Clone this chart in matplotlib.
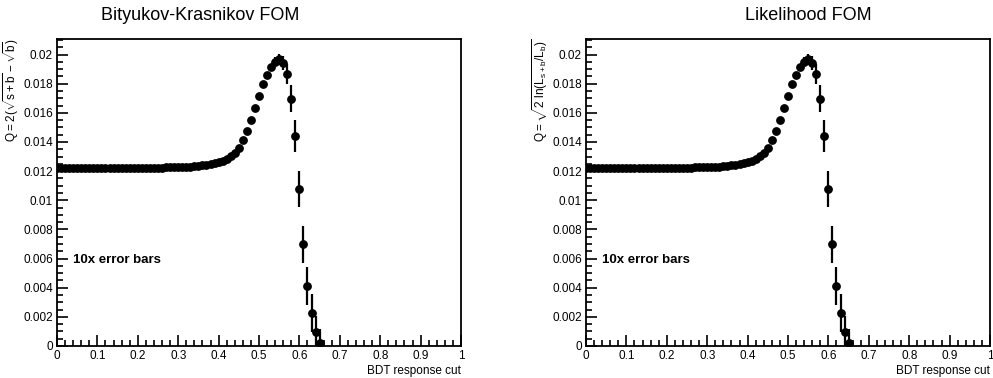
import numpy as np
from matplotlib import pyplot as plt
from matplotlib import ticker

# BDT cut scan, one point every 0.01
cut = [round(0.01 * i, 2) for i in range(66)]

# figure of merit vs. cut (both definitions give the same curve here)
bk_fom = [0.01223, 0.01223, 0.01223, 0.01223, 0.01223, 0.01223, 0.01223, 0.01223, 0.01223, 0.01223,
          0.01223, 0.01223, 0.01223, 0.01223, 0.01223, 0.01223, 0.01223, 0.01223, 0.01223, 0.01223,
          0.01223, 0.01223, 0.01223, 0.01223, 0.01224, 0.01224, 0.01224, 0.01225, 0.01225, 0.01226,
          0.01227, 0.01228, 0.01229, 0.01231, 0.01233, 0.01236, 0.01239, 0.01243, 0.01248, 0.01254,
          0.01262, 0.01272, 0.01285, 0.01303, 0.01327, 0.01362, 0.01412, 0.01478, 0.01551, 0.01631,
          0.01714, 0.01798, 0.01858, 0.01913, 0.01952, 0.01966, 0.01943, 0.01865, 0.01698, 0.01443,
          0.01077, 0.00697, 0.00411, 0.00225, 0.00095, 0.00020]
lik_fom = list(bk_fom)

# statistical errors, already scaled up by 10
err10 = [0.00005] * 45 + [0.00008, 0.00009, 0.0001, 0.00011, 0.00012, 0.00013, 0.00015, 0.00017,
                          0.0002, 0.00028, 0.0004, 0.0005, 0.0007, 0.0009, 0.0011, 0.00125,
                          0.00126, 0.0013, 0.0013, 0.0011, 0.001]

titles = ['Bityukov-Krasnikov FOM', 'Likelihood FOM']
ylabels = [r'$\mathregular{Q = 2(\sqrt{s+b} - \sqrt{b})}$',
           r'$\mathregular{Q = \sqrt{2\ ln(L_{s+b} / L_{b})}}$']

plt.rcParams['font.family'] = ['Liberation Sans', 'DejaVu Sans']
plt.rcParams['mathtext.fontset'] = 'custom'
plt.rcParams['mathtext.rm'] = 'Liberation Sans'

fig = plt.figure(figsize=(9.93, 3.78), dpi=100)
ax_left = [57 / 993, 586 / 993]
title_x = [200 / 993, 808 / 993]

for k, fom in enumerate([bk_fom, lik_fom]):
    ax = fig.add_axes([ax_left[k], 32 / 378, 404 / 993, 307.5 / 378])
    ax.errorbar(cut, fom, yerr=err10, fmt='o', color='black', ms=5.3,
                elinewidth=1.6, capsize=0)
    ax.set_xlim(0, 1)
    ax.set_ylim(0, 0.0211)

    ax.xaxis.set_major_locator(ticker.MultipleLocator(0.1))
    ax.xaxis.set_minor_locator(ticker.MultipleLocator(0.02))
    ax.yaxis.set_major_locator(ticker.MultipleLocator(0.002))
    ax.yaxis.set_minor_locator(ticker.MultipleLocator(0.0005))
    fmt = ticker.FuncFormatter(lambda v, p: '%g' % round(v, 4))
    ax.xaxis.set_major_formatter(fmt)
    ax.yaxis.set_major_formatter(fmt)
    ax.tick_params(which='both', direction='in', top=False, right=False,
                   labelsize=8.5, width=1.2)
    ax.tick_params(which='major', length=8, pad=3)
    ax.tick_params(which='minor', length=4)
    for sp in ax.spines.values():
        sp.set_linewidth(1.3)

    ax.set_xlabel('BDT response cut', fontsize=8.5, ha='right', x=1.0, labelpad=2)
    ax.set_ylabel(ylabels[k], fontsize=8.5, ha='right')
    ax.yaxis.set_label_coords(-0.088, 1.0)

    ax.text(0.04, 0.28, '10x error bars', transform=ax.transAxes,
            fontsize=9.5, fontweight='bold', va='center')
    fig.text(title_x[k], 1 - 16 / 378, titles[k], fontsize=13,
             ha='center', va='center')

fig.savefig('out.png', dpi=100)
